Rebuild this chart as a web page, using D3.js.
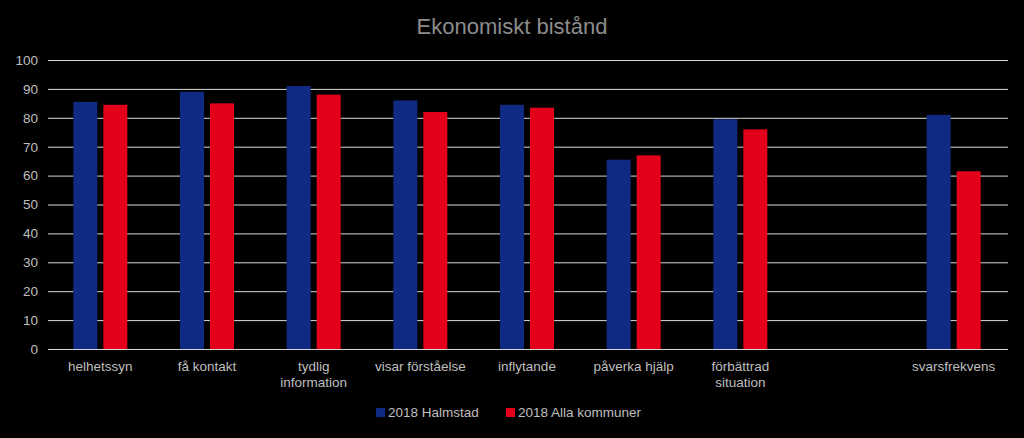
<!DOCTYPE html><html><head><meta charset="utf-8">
<script src="https://cdn.jsdelivr.net/npm/d3@7"></script>
<style>body{margin:0;background:#000}</style></head><body><svg id="c" width="1024" height="438"></svg>
<script>
const categories=[["helhetssyn"],["få kontakt"],["tydlig","information"],["visar förståelse"],["inflytande"],["påverka hjälp"],["förbättrad","situation"],[""],["svarsfrekvens"]];
const halmstad=[85.5,89,91,86,84.5,65.5,79.5,null,81];
const alla=[84.5,85,88,82,83.5,67,76,null,61.5];
const yTicks=[0,10,20,30,40,50,60,70,80,90,100];
const seriesNames=["2018 Halmstad","2018 Alla kommuner"];
const colors=["#0f2a82","#e3001b"];
const svg=d3.select("#c");
svg.append("rect").attr("width",1024).attr("height",438).attr("fill","#000");
const x=d3.scaleBand().domain(d3.range(categories.length)).range([47,1007]);
const y=d3.scaleLinear().domain([0,100]).range([349,60]);
const font="Liberation Sans, Arial, sans-serif";
svg.append("text").attr("x",512).attr("y",34).attr("text-anchor","middle").attr("fill","#8c8c8c").attr("font-family",font).attr("font-size",22).text("Ekonomiskt bistånd");
const ga=svg.append("g").attr("transform","translate(48,0)").call(d3.axisLeft(y).tickValues(yTicks).tickSize(-960).tickPadding(10));
ga.select(".domain").remove();
ga.selectAll("line").attr("stroke","#d9d9d9").attr("stroke-width",1);
ga.selectAll("text").attr("fill","#bfbfbf").attr("font-family",font).attr("font-size",13.5);
const bw=24,gap=6;
[halmstad,alla].forEach((s,si)=>{
 svg.append("g").selectAll("rect").data(s.map((v,i)=>({v,i})).filter(d=>d.v!=null)).join("rect")
 .attr("x",d=>x(d.i)+x.bandwidth()/2-bw-gap/2+si*(bw+gap)).attr("width",bw)
 .attr("y",d=>y(d.v)).attr("height",d=>y(0)-y(d.v)).attr("fill",colors[si]);
});
categories.forEach((c,i)=>{
 const t=svg.append("text").attr("x",x(i)+x.bandwidth()/2).attr("y",371).attr("text-anchor","middle").attr("fill","#bfbfbf").attr("font-family",font).attr("font-size",13.5);
 c.forEach((l,j)=>t.append("tspan").attr("x",x(i)+x.bandwidth()/2).attr("dy",j?16:0).text(l));
});
const lx=[376,506];
seriesNames.forEach((n,i)=>{
 svg.append("rect").attr("x",lx[i]).attr("y",408).attr("width",9).attr("height",9).attr("fill",colors[i]);
 svg.append("text").attr("x",lx[i]+12).attr("y",417).attr("fill","#bfbfbf").attr("font-family",font).attr("font-size",13.5).text(n);
});
</script></body></html>
